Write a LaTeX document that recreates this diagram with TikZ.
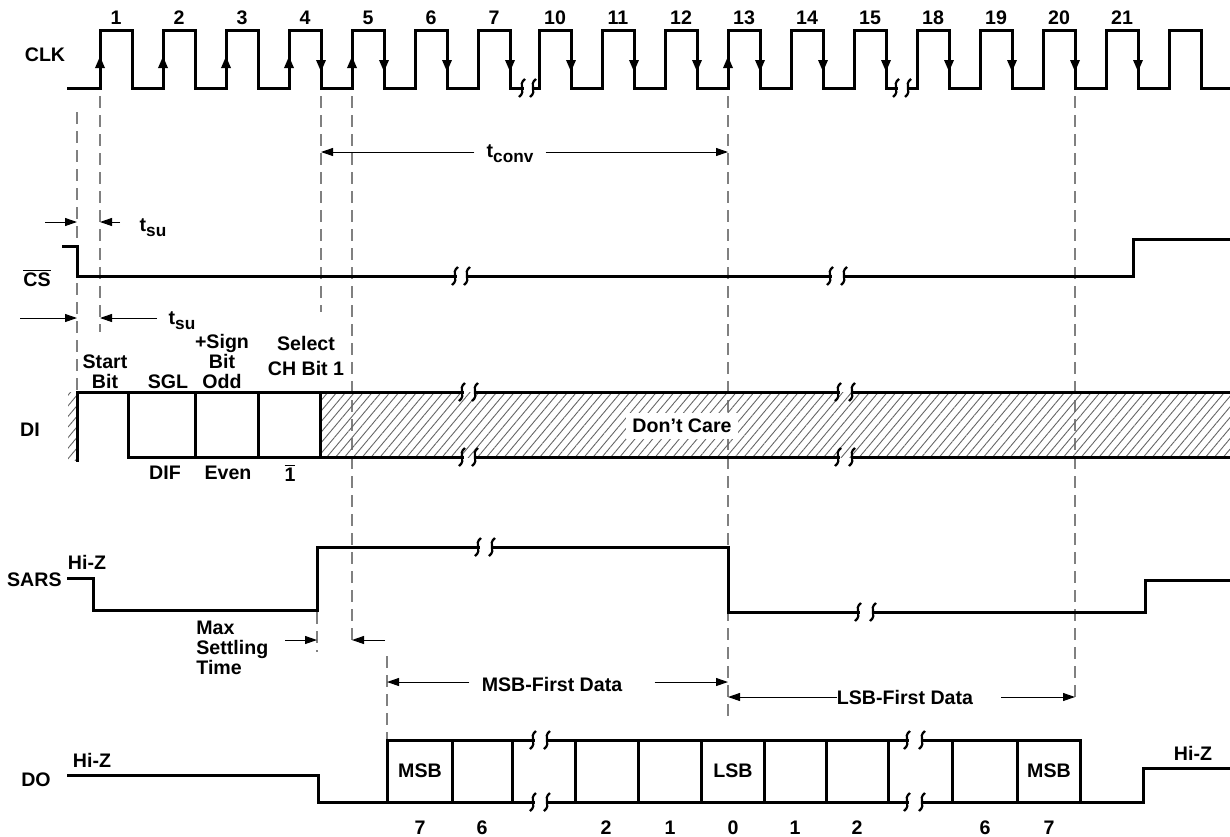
\documentclass[tikz,border=0pt]{standalone}
\usepackage{fontspec}
\setmainfont{Liberation Sans}
\usetikzlibrary{arrows.meta,patterns.meta}

% two small s-shaped marks of a broken time axis
\newcommand{\BrkMark}[2]{%
  \draw[BrkLine] (#1+3,#2-9) .. controls (#1-5,#2-3) and (#1+5,#2+3) .. (#1-3,#2+9);}
% large lowered subscript, as in t_su
\newcommand{\Sub}[1]{\raisebox{-0.5ex}{\fontsize{8.6}{9}\selectfont #1}}

\begin{document}
\begin{tikzpicture}
  [
    x=0.5pt, y=-0.5pt,
    font=\fontsize{9.8}{10}\selectfont\bfseries,
    Sig/.style={line width=1.5pt, line cap=rect},
    BrkLine/.style={line width=1.1pt},
    Guide/.style={gray, line width=0.6pt, dash pattern=on 6pt off 3.5pt},
    Dim/.style={line width=0.5pt, -{Triangle[length=6pt,width=4pt]}},
    EdgeArrow/.style={line width=1.5pt, -{Triangle[length=6pt,width=4.5pt]}},
    Lbl/.style={inner sep=1pt},
    Hatch/.style={pattern={Lines[angle=50,distance=3.4pt,line width=0.45pt]}, pattern color=gray!80!black},
  ]
  \useasboundingbox (0,0) rectangle (1230,836);

  % CLK
  \node[Lbl] (lclk) at (45,55) {CLK};
  \draw[Sig] (68,88) foreach \x in {100,163,...,478} { -- (\x,88) -- (\x,30) -- (\x+32,30) -- (\x+32,88) } -- (522,88);
  \draw[Sig] (533,88) foreach \x in {539,602,...,854} { -- (\x,88) -- (\x,30) -- (\x+32,30) -- (\x+32,88) } -- (896,88);
  \draw[Sig] (908,88) foreach \x in {917,980,...,1169} { -- (\x,88) -- (\x,30) -- (\x+32,30) -- (\x+32,88) } -- (1230,88);
  \BrkMark{522}{88} \BrkMark{533}{88}
  \BrkMark{896}{88} \BrkMark{908}{88}
  \foreach \n/\x in {1/100,2/163,3/226,4/289,5/352,6/415,7/478,10/539,11/602,12/665,13/728,14/791,15/854,18/917,19/980,20/1043,21/1106}
    \node[Lbl] (p\n) at (\x+16,18) {\n};
  \foreach \x in {100,163,226,289,352,728}
    \draw[EdgeArrow] (\x,82) -- (\x,56);
  \foreach \x in {321,384,447,510,571,634,697,760,823,886,949,1012,1075,1138}
    \draw[EdgeArrow] (\x,36) -- (\x,72);

  % guide lines
  \draw[Guide] (77,112) -- (77,392);
  \draw[Guide] (100,96) -- (100,332);
  \draw[Guide] (321,96) -- (321,312);
  \draw[Guide] (352,96) -- (352,646);
  \draw[Guide] (728,96) -- (728,716);
  \draw[Guide] (1075,96) -- (1075,697);
  \draw[Guide] (317,612) -- (317,652);
  \draw[Guide] (387,656) -- (387,740);

  % conversion time
  \coordinate (TcL) at (321,152);
  \coordinate (TcR) at (728,152);
  \node[Lbl, inner xsep=6pt] (tconv) at (510,154) {t\Sub{conv}};
  \draw[Dim] (tconv.west |- TcL) -- (TcL);
  \draw[Dim] (tconv.east |- TcR) -- (TcR);

  % CS
  \node[Lbl] (lcs) at (37,278) {$\overline{\mbox{CS}}$};
  \draw[Sig] (63,246) -- (77,246) -- (77,276) -- (455,276);
  \draw[Sig] (467,276) -- (830,276);
  \draw[Sig] (844,276) -- (1133,276) -- (1133,239) -- (1230,239);
  \BrkMark{455}{276} \BrkMark{467}{276}
  \BrkMark{830}{276} \BrkMark{844}{276}
  \coordinate (SuAl) at (45,222);
  \coordinate (SuAr) at (77,222);
  \coordinate (SuBl) at (120,222);
  \coordinate (SuBr) at (100,222);
  \draw[Dim] (SuAl) -- (SuAr);
  \draw[Dim] (SuBl) -- (SuBr);
  \node[Lbl] (tsua) at (153,228) {t\Sub{su}};

  % DI
  \coordinate (SuCl) at (20,318);
  \coordinate (SuCr) at (77,318);
  \coordinate (SuDl) at (157,318);
  \coordinate (SuDr) at (100,318);
  \draw[Dim] (SuCl) -- (SuCr);
  \draw[Dim] (SuDl) -- (SuDr);
  \node[Lbl] (tsub) at (182,321) {t\Sub{su}};
  \node[Lbl] (ldi) at (30,430) {DI};
  \fill[Hatch] (68,392) rectangle (77,460);
  \fill[Hatch] (320,392) rectangle (1230,457);
  \draw[Sig] (77,460) -- (77,392) -- (462,392);
  \draw[Sig] (475,392) -- (838,392);
  \draw[Sig] (852,392) -- (1230,392);
  \draw[Sig] (128,392) -- (128,457) -- (462,457);
  \draw[Sig] (475,457) -- (838,457);
  \draw[Sig] (852,457) -- (1230,457);
  \foreach \x in {195,258,320}
    \draw[Sig] (\x,392) -- (\x,457);
  \foreach \x in {462,475,838,852} {
    \BrkMark{\x}{392} \BrkMark{\x}{457}
  }
  \node[Lbl, fill=white, inner sep=3pt] (dc) at (682,426) {Don’t Care};
  \node[Lbl, align=center] (bstart) at (105,372) {Start\\Bit};
  \node[Lbl] (bsgl) at (168,382) {SGL};
  \node[Lbl, align=center] (bsign) at (222,361) {+Sign\\Bit\\Odd};
  \node[Lbl, align=center] (bsel) at (306,356) {Select\\[2.5pt]CH Bit 1};
  \node[Lbl] (bdif) at (165,473) {DIF};
  \node[Lbl] (beven) at (228,473) {Even};
  \node[Lbl] (bone) at (290,473) {$\overline{\mbox{1}}$};

  % SARS
  \node[Lbl, anchor=east] (lsars) at (64,580) {SARS};
  \node[Lbl] (hza) at (87,562) {Hi-Z};
  \draw[Sig] (68,578) -- (93,578) -- (93,610) -- (317,610) -- (317,547) -- (478,547);
  \draw[Sig] (492,547) -- (728,547) -- (728,612) -- (858,612);
  \draw[Sig] (873,612) -- (1145,612) -- (1145,580) -- (1230,580);
  \BrkMark{478}{547} \BrkMark{492}{547}
  \BrkMark{858}{612} \BrkMark{873}{612}
  \coordinate (StL) at (285,640);
  \coordinate (StR) at (317,640);
  \coordinate (SfL) at (385,640);
  \coordinate (SfR) at (352,640);
  \draw[Dim] (StL) -- (StR);
  \draw[Dim] (SfL) -- (SfR);
  \node[Lbl, anchor=west, align=left] (settle) at (194,648) {Max\\Settling\\Time};

  % data frames
  \coordinate (MsbL) at (387,682);
  \coordinate (MsbR) at (728,682);
  \node[Lbl, inner xsep=6pt] (msbf) at (552,684) {MSB-First Data};
  \draw[Dim] (msbf.west |- MsbL) -- (MsbL);
  \draw[Dim] ([xshift=10pt]msbf.east |- MsbR) -- (MsbR);
  \coordinate (LsbL) at (728,697);
  \coordinate (LsbR) at (1075,697);
  \node[Lbl, inner xsep=0pt] (lsbf) at (905,697) {LSB-First Data};
  \draw[Dim] (lsbf.west) -- (LsbL);
  \draw[Dim] ([xshift=14pt]lsbf.east) -- (LsbR);

  % DO
  \node[Lbl] (ldo) at (36,780) {DO};
  \node[Lbl] (hzb) at (92,760) {Hi-Z};
  \node[Lbl] (hzc) at (1193,753) {Hi-Z};
  \draw[Sig] (68,775) -- (318,775) -- (318,802) -- (387,802) -- (533,802);
  \draw[Sig] (387,802) -- (387,740) -- (533,740);
  \draw[Sig] (547,740) -- (907,740);
  \draw[Sig] (547,802) -- (907,802);
  \draw[Sig] (922,740) -- (1080,740) -- (1080,802) -- (922,802);
  \draw[Sig] (1080,802) -- (1143,802) -- (1143,768) -- (1230,768);
  \foreach \x in {452,512,575,638,701,764,826,888,952,1017}
    \draw[Sig] (\x,740) -- (\x,802);
  \foreach \x in {533,547,907,922} {
    \BrkMark{\x}{740} \BrkMark{\x}{802}
  }
  \node[Lbl] (dmsb) at (420,771) {MSB};
  \node[Lbl] (dlsb) at (733,771) {LSB};
  \node[Lbl] (dmsbb) at (1049,771) {MSB};
  \foreach \n/\x [count=\i] in {7/420,6/482,2/606,1/670,0/733,1/795,2/857,6/985,7/1049}
    \node[Lbl] (bit\i) at (\x,828) {\n};
\end{tikzpicture}
\end{document}
